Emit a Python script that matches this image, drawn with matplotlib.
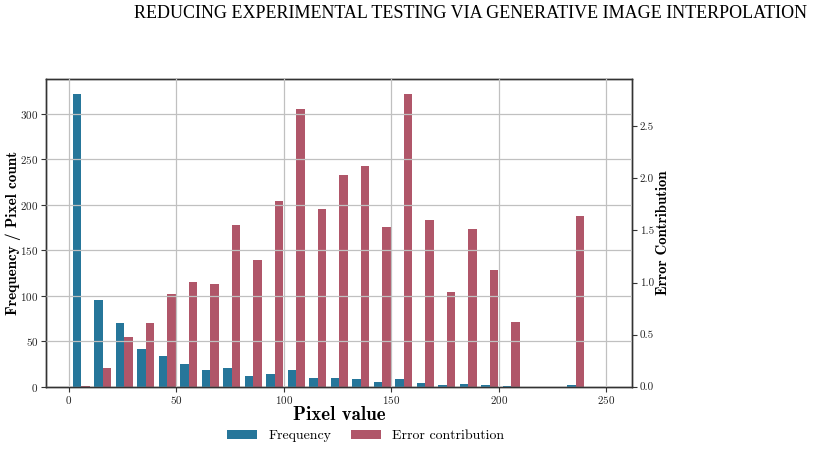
import matplotlib
matplotlib.use("Agg")
import matplotlib.pyplot as plt
import numpy as np

plt.rcParams['font.family'] = ['cmr10', 'DejaVu Serif']
plt.rcParams['axes.formatter.use_mathtext'] = True
plt.rcParams['mathtext.fontset'] = 'cm'

# Data: histogram bins of width 10, pair centres offset inside each bin
bin_starts = [0, 10, 20, 30, 40, 50, 60, 70, 80, 90, 100, 110, 120,
              130, 140, 150, 160, 170, 180, 190, 200, 210, 220, 230, 240]
frequency = [322, 95, 70, 41, 34, 25, 18, 20, 12, 14, 18, 9, 9,
             8, 5, 8, 4, 2, 3, 2, 1, 0, 0, 2, 0]
error_contribution = [0.01, 0.176, 0.48, 0.607, 0.886, 1.007, 0.981, 1.557, 1.218,
                      1.787, 2.669, 1.71, 2.036, 2.116, 1.535, 2.813, 1.598, 0.905,
                      1.512, 1.122, 0.623, 0.0, 0.0, 1.643, 0.0]

title = "REDUCING EXPERIMENTAL TESTING VIA GENERATIVE IMAGE INTERPOLATION"
blue = "#26769A"
red = "#B05669"

fig = plt.figure(figsize=(8.13, 4.5), dpi=100)
ax1 = fig.add_axes([0.0566, 0.1407, 0.7211, 0.6837])
ax2 = ax1.twinx()

x = np.array(bin_starts, dtype=float) + 5.8
w = 3.95
b1 = ax1.bar(x - w / 2, frequency, width=w, color=blue, label="Frequency")
b2 = ax2.bar(x + w / 2, error_contribution, width=w, color=red, label="Error contribution")

ax1.set_zorder(ax2.get_zorder() + 1)
ax1.patch.set_visible(False)
ax1.set_axisbelow(False)
ax1.grid(True, color="#c0c0c0", linewidth=0.9)
ax2.grid(False)

ax1.set_xticks([0, 50, 100, 150, 200, 250])
ax1.set_yticks([0, 50, 100, 150, 200, 250, 300])
ax2.set_yticks([0.0, 0.5, 1.0, 1.5, 2.0, 2.5])
ax2.set_yticklabels(["0.0", "0.5", "1.0", "1.5", "2.0", "2.5"])

for ax in (ax1, ax2):
    ax.tick_params(labelsize=8, length=3.5, width=0.8, pad=2,
                   colors="#333333", labelcolor="#222222")
    for s in ax.spines.values():
        s.set_color("#333333")
        s.set_linewidth(1.0)

ax1.set_xlabel("Pixel value", fontfamily="cmb10", fontsize=13.7)
ax1.xaxis.set_label_coords(0.5, -0.063)
ax1.set_ylabel("Frequency / Pixel count", fontfamily="cmb10", fontsize=11)
ax1.yaxis.set_label_coords(-0.0426, 0.5)
ax2.set_ylabel("Error Contribution", fontfamily="cmb10", fontsize=10.6)
ax2.yaxis.set_label_coords(1.041, 0.5)

fig.text(0.993, 0.969, title, ha="right", va="center",
         fontfamily="Liberation Serif", fontsize=13)

fig.legend(handles=[b1, b2], labels=["Frequency", "Error contribution"],
           loc="center", bbox_to_anchor=(0.4496, 0.031), ncol=2, frameon=False,
           fontsize=10, columnspacing=1.4, handletextpad=0.8, handlelength=2.2)

fig.savefig("out.png", dpi=100)
